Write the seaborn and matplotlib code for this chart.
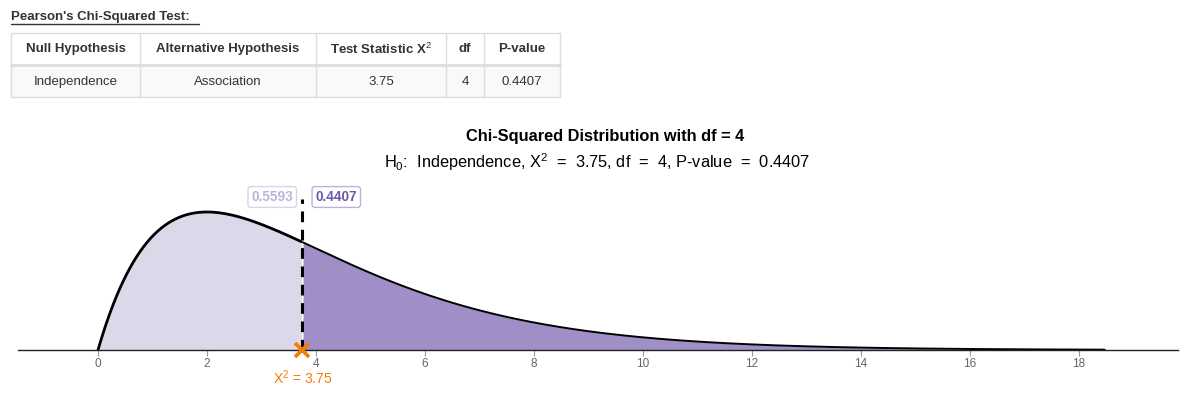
import numpy as np
import pandas as pd
import matplotlib
matplotlib.use("Agg")
import matplotlib.pyplot as plt
import seaborn as sns
from math import gamma

# ---- data ----
table_headers = ["Null Hypothesis", "Alternative Hypothesis", "Test Statistic X$^2$", "df", "P-value"]
table_values = ["Independence", "Association", "3.75", "4", "0.4407"]
test_stat = [3.75]
dof = [4]
p_value = [0.4407]
left_area = [0.5593]
x_ticks = [0, 2, 4, 6, 8, 10, 12, 14, 16, 18]
x_max = [18.47]

sns.set_theme(style="white")
plt.rcParams['font.family'] = ['Liberation Sans', 'DejaVu Sans']
plt.rcParams['mathtext.fontset'] = 'custom'
plt.rcParams['mathtext.rm'] = 'Liberation Sans'
plt.rcParams['mathtext.it'] = 'Liberation Sans'
plt.rcParams['mathtext.bf'] = 'Liberation Sans:bold'

W, H = 1188, 395
fig = plt.figure(figsize=(W / 100, H / 100), dpi=100)

def fx(px):
    return px / W

def fy(py):
    return 1 - py / H

# ---- table ----
fig.text(fx(11), fy(17), "Pearson's Chi-Squared Test:", fontsize=9.5, fontweight='bold',
         color='#333333', va='center', ha='left')
fig.add_artist(plt.Line2D([fx(11), fx(199)], [fy(24), fy(24)], color='#333333', lw=1.0))

col_edges = [11, 140, 316, 446, 484, 560]
row_edges = [33, 65, 97]
border = '#dddddd'
fig.add_artist(plt.Rectangle((fx(11), fy(97)), fx(560 - 11), (97 - 65) / H,
                             facecolor='#f9f9f9', edgecolor='none'))
for r in row_edges:
    fig.add_artist(plt.Line2D([fx(11), fx(560)], [fy(r), fy(r)], color=border, lw=1.0))
fig.add_artist(plt.Line2D([fx(11), fx(560)], [fy(65), fy(65)], color=border, lw=2.0))
for c in col_edges:
    fig.add_artist(plt.Line2D([fx(c), fx(c)], [fy(33), fy(97)], color=border, lw=1.0))
for i in range(5):
    cx = (col_edges[i] + col_edges[i + 1]) / 2
    fig.text(fx(cx), fy(49), table_headers[i], fontsize=9.5, fontweight='bold',
             color='#333333', ha='center', va='center')
    fig.text(fx(cx), fy(82), table_values[i], fontsize=9.5,
             color='#333333', ha='center', va='center')

# ---- distribution plot ----
k = dof[0]
xs = np.linspace(0, x_max[0], 600)
pdf = xs ** (k / 2 - 1) * np.exp(-xs / 2) / (2 ** (k / 2) * gamma(k / 2))
df_curve = pd.DataFrame({"x": xs, "density": pdf})

x_left_px, x_right_px = 18, 1178
x0_px, x18_px = 98, 1079
ppu = (x18_px - x0_px) / 18
xlim = ((x_left_px - x0_px) / ppu, (x_right_px - x0_px) / ppu)
base_px, top_px = 350, 185
peak = pdf.max()
ylim_top = (base_px - top_px) / (base_px - 212) * peak

ax = fig.add_axes([fx(x_left_px), 1 - base_px / H, fx(x_right_px - x_left_px), (base_px - top_px) / H])
ax.set_xlim(*xlim)
ax.set_ylim(0, ylim_top)

stat = test_stat[0]
left = df_curve[df_curve.x <= stat]
right = df_curve[df_curve.x >= stat]
ax.fill_between(left.x, 0, left.density, color='#dcd8ea', lw=0)
ax.fill_between(right.x, 0, right.density, color='#a08fc6', lw=0)
sns.lineplot(data=left, x="x", y="density", color='black', lw=2.0, ax=ax)
sns.lineplot(data=right, x="x", y="density", color='black', lw=1.4, ax=ax)

ax.plot([stat, stat], [0, (base_px - 199) / (base_px - 212) * peak], color='black',
        lw=2.2, ls=(0, (3.5, 2.5)), zorder=4)

ylab = (base_px - 197) / (base_px - 212) * peak
ax.text(stat - 0.17, ylab, f"{left_area[0]:.4f}", ha='right', va='center', fontsize=9.8,
        fontweight='bold', color='#bdb3da',
        bbox=dict(boxstyle='round,pad=0.25,rounding_size=0.2', fc='white', ec='#d9d3ec', lw=1))
ax.text(stat + 0.24, ylab, f"{p_value[0]:.4f}", ha='left', va='center', fontsize=9.8,
        fontweight='bold', color='#6c58a6',
        bbox=dict(boxstyle='round,pad=0.25,rounding_size=0.2', fc='white', ec='#bcb1d8', lw=1))

ax.plot([stat], [0], marker='x', color='#f57c00', ms=10, mew=2.6, zorder=6, clip_on=False)
ax.text(stat, -(378 - base_px) / (base_px - 212) * peak, f"X$^2$ = {stat}", color='#f57c00',
        fontsize=10, ha='center', va='center')

for s in ['top', 'right', 'left']:
    ax.spines[s].set_visible(False)
ax.spines['bottom'].set_color('#222222')
ax.spines['bottom'].set_linewidth(1.0)
ax.set_yticks([])
ax.set_xticks(x_ticks)
ax.set_xticklabels([str(t) for t in x_ticks])
ax.tick_params(axis='x', colors='#999999', labelcolor='#666666', labelsize=8.5,
               length=4, width=0.8, direction='out', pad=2, bottom=True)
ax.set_xlabel("")
ax.set_ylabel("")

fig.text(fx(605), fy(137), f"Chi-Squared Distribution with df = {k}", fontsize=11.8,
         fontweight='bold', color='black', ha='center', va='center')
fig.text(fx(597), fy(162),
         r"H$_0$:  Independence, X$^2$  =  3.75, df  =  4, P-value  =  0.4407",
         fontsize=11.8, color='black', ha='center', va='center')

fig.savefig("out.png", dpi=100)
